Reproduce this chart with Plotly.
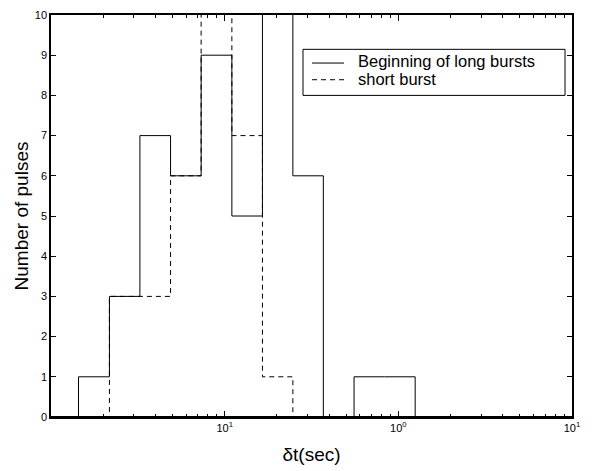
import plotly.graph_objects as go

# Logarithmic bin edges of the pulse-separation histogram (seconds)
bin_edges = [0.0144, 0.0217, 0.0325, 0.0488, 0.0732, 0.110, 0.165, 0.247, 0.370, 0.556, 0.833, 1.25]

# Pulse counts per bin
long_burst_counts = [1, 3, 7, 6, 9, 5, 12, 6, 0, 1, 1]
short_burst_counts = [0, 3, 3, 6, 11, 7, 1, 0, 0, 0, 0]

series_names = ["Beginning of long bursts", "short burst"]

y_ticks = list(range(0, 11))
x_tick_vals = [0.1, 1, 10]
x_tick_text = ["10<sup>1</sup>", "10<sup>0</sup>", "10<sup>1</sup>"]


def outline(edges, counts):
    """Step outline of a histogram, closed down to zero at both ends."""
    xs = [edges[0]] + list(edges[:-1]) + [edges[-1]]
    ys = [0] + list(counts) + [0]
    return xs, ys


DASH = "5px,4px"
fig = go.Figure()

xs, ys = outline(bin_edges, short_burst_counts)
fig.add_trace(go.Scatter(
    x=xs, y=ys, mode="lines", line_shape="hv",
    line=dict(color="black", width=1, dash=DASH),
    name=series_names[1], showlegend=False,
))

xs, ys = outline(bin_edges, long_burst_counts)
fig.add_trace(go.Scatter(
    x=xs, y=ys, mode="lines", line_shape="hv",
    line=dict(color="black", width=1),
    name=series_names[0], showlegend=False,
))

font_family = "Liberation Sans, Arial, Helvetica, sans-serif"

# heavy baseline along y = 0, drawn over the histogram outlines
fig.add_shape(type="line", xref="paper", yref="y", x0=0, x1=1, y0=0, y1=0,
              line=dict(color="black", width=2), layer="above")

# boxed legend in the upper right of the axes
fig.add_shape(type="rect", xref="paper", yref="paper",
              x0=0.4837, x1=0.9866, y0=0.800, y1=0.9146,
              line=dict(color="black", width=1), fillcolor="white", layer="above")
legend_rows = [(0.8805, 0.8866, None), (0.8390, 0.8402, DASH)]
for (ly, ty, dash), label in zip(legend_rows, series_names):
    fig.add_shape(type="line", xref="paper", yref="paper",
                  x0=0.501, x1=0.5624, y0=ly, y1=ly,
                  line=dict(color="black", width=1, dash=dash), layer="above")
    fig.add_annotation(xref="paper", yref="paper", x=0.5854, y=ty,
                       xanchor="left", yanchor="middle", showarrow=False,
                       text=label, font=dict(size=16.5, family=font_family, color="black"))

fig.update_layout(
    width=600, height=471,
    margin=dict(l=51, r=28, t=9, b=52),
    paper_bgcolor="white", plot_bgcolor="white",
    font=dict(family=font_family, color="black", size=11),
    showlegend=False,
    xaxis=dict(
        type="log", range=[-2, 1],
        tickmode="array", tickvals=x_tick_vals, ticktext=x_tick_text,
        ticks="inside", ticklen=6, tickwidth=1, tickcolor="black",
        showline=True, linecolor="black", linewidth=1.5, mirror="ticks",
        showgrid=False, zeroline=False,
        minor=dict(ticks="inside", ticklen=3, tickwidth=1, tickcolor="black",
                   dtick="D1", showgrid=False),
        title=dict(text="δt(sec)", font=dict(size=19), standoff=15),
        tickfont=dict(size=11),
    ),
    yaxis=dict(
        range=[0, 10],
        tickmode="array", tickvals=y_ticks,
        ticks="inside", ticklen=5, tickwidth=1, tickcolor="black",
        showline=True, linecolor="black", linewidth=1.5, mirror="ticks",
        showgrid=False, zeroline=False,
        title=dict(text="Number of pulses", font=dict(size=19), standoff=1),
        tickfont=dict(size=11),
    ),
)

fig.write_html("out.html")
